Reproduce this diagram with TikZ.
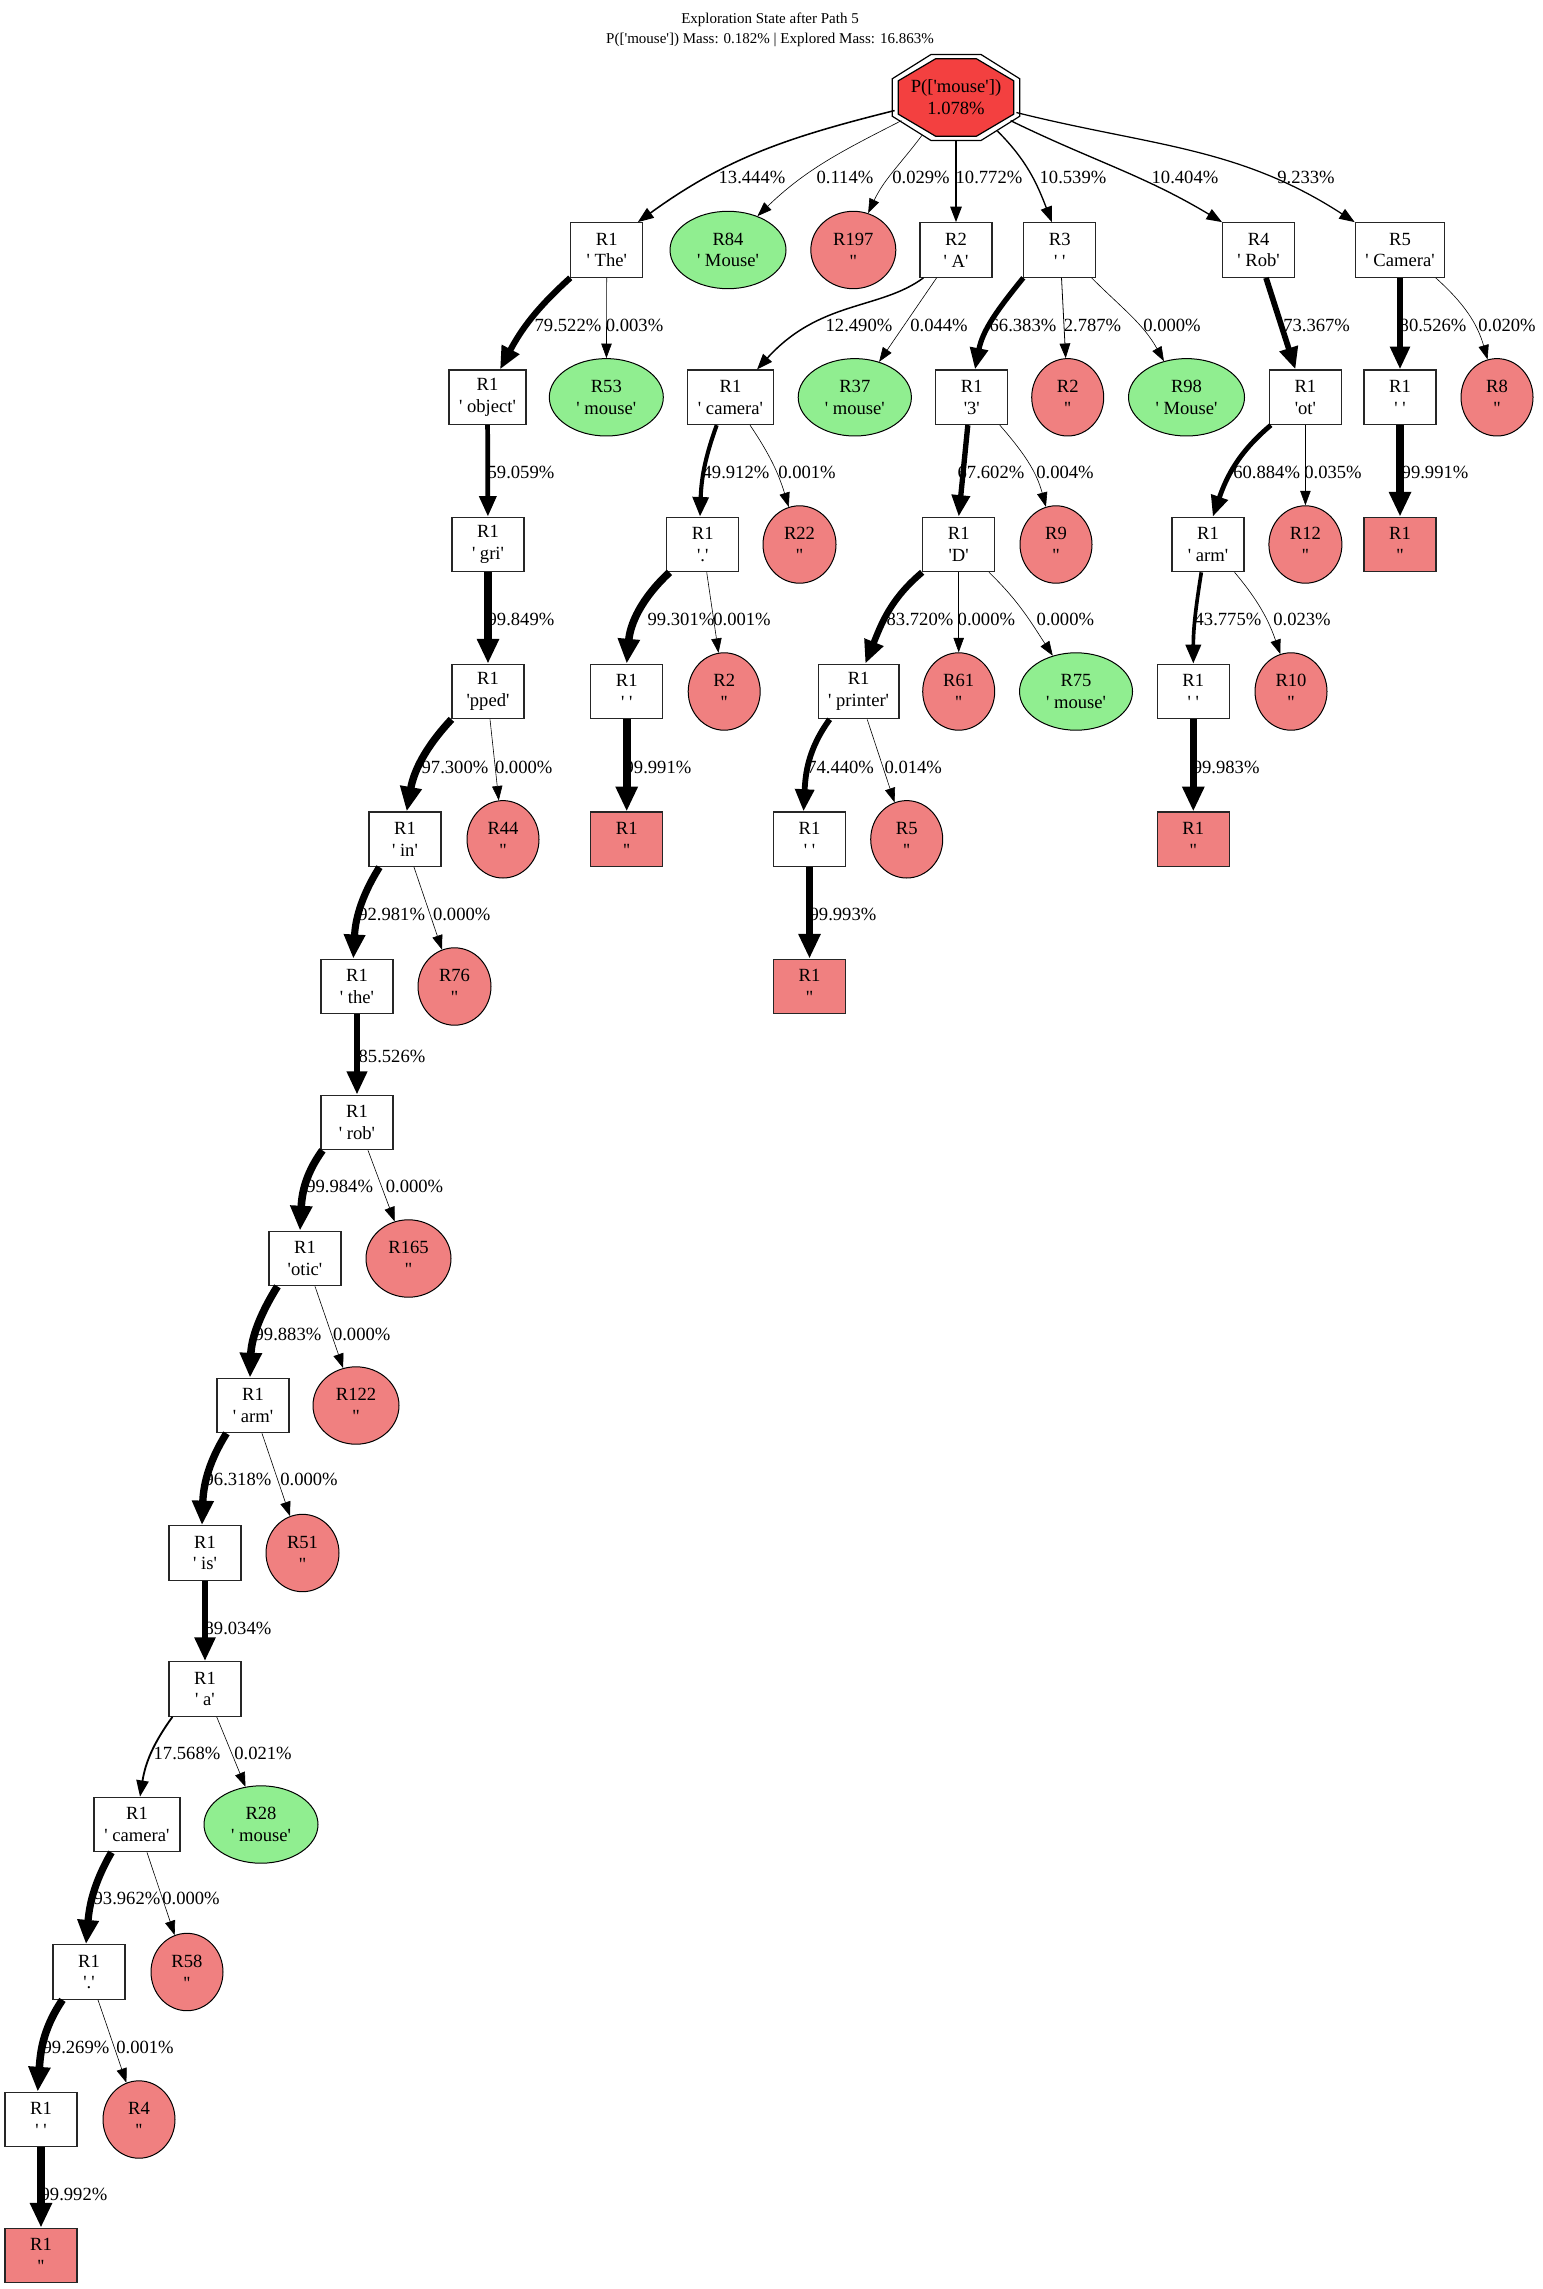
\documentclass[tikz,border=0pt]{standalone}
\usepackage{fontspec}
\usetikzlibrary{arrows.meta,calc,shapes.geometric}
\newfontfamily\gv{Liberation Serif}
\newcommand\nodefont{\gv\fontsize{9.3}{10.9}\selectfont}
\newcommand\titlefont{\gv\fontsize{7.5}{9.75}\selectfont}
\definecolor{rootred}{RGB}{243,64,64}
\definecolor{lcoral}{RGB}{240,128,128}
\definecolor{lgreen}{RGB}{144,238,144}

% edge whose width and arrow head grow with the probability #1
\tikzset{pe/.code={%
  \pgfmathsetmacro\ew{0.6+7*#1}%
  \pgfmathsetmacro\elw{\ew/2}%
  \pgfmathsetmacro\eal{(13.5+1.5*\ew)/2}%
  \pgfmathsetmacro\eaw{(9.5+1.5*\ew)/2}%
  \edef\tmpedge{\noexpand\pgfkeysalso{/tikz/line width=\elw pt,/tikz/arrows={-{Triangle[length=\eal pt,width=\eaw pt]}}}}%
  \tmpedge}}

\begin{document}
\begin{tikzpicture}[x=0.5pt,y=0.5pt,
  bx/.style={draw=black!85, line width=0.55pt, rectangle, minimum width=36pt, minimum height=27.3pt, inner sep=0pt, align=center, font=\nodefont},
  fn/.style={bx, fill=lcoral},
  rc/.style={ellipse, draw=black, line width=0.5pt, fill=lcoral, minimum width=36.5pt, minimum height=38.7pt, inner sep=0pt, align=center, font=\nodefont},
  gn/.style={rc, fill=lgreen, minimum width=57pt},
  lab/.style={font=\nodefont, inner sep=0pt}]

\fill[white] (0,0) rectangle (1542,-2289);
\path[use as bounding box] (0,0) rectangle (1542,-2289);

% title
\node[font=\titlefont, align=center, inner sep=0pt] (title) at (770,-30)
  {Exploration State after Path 5\\P(['mouse']) Mass: 0.182\% | Explored Mass: 16.863\%};

% root: double octagon
\begin{scope}[shift={(956,-97.5)}]
  \draw[line width=0.6pt, fill=white] (-63.8,18.7) -- (-25,43) -- (25,43) -- (63.8,18.7) -- (63.8,-18.7) -- (25,-43) -- (-25,-43) -- (-63.8,-18.7) -- cycle;
  \draw[line width=0.6pt, fill=rootred] (-57.7,16.7) -- (-20.3,38.8) -- (20.3,38.8) -- (57.7,16.7) -- (57.7,-16.7) -- (20.3,-38.8) -- (-20.3,-38.8) -- (-57.7,-16.7) -- cycle;
\end{scope}
\node[ellipse, minimum width=63.5pt, minimum height=43.5pt, inner sep=0pt, align=center, font=\nodefont] (nRoot) at (956,-97.5) {P(['mouse'])\\1.078\%};

% rank 1
\node[bx] (nThe) at (606.8,-250) {R1\\' The'};
\node[gn, minimum width=58pt] (nR84) at (728,-250) {R84\\' Mouse'};
\node[rc, minimum width=42.5pt] (nR197) at (853.3,-250) {R197\\''};
\node[bx] (nA) at (956,-250) {R2\\' A'};
\node[bx] (nR3) at (1059.8,-250) {R3\\' '};
\node[bx] (nR4) at (1258.6,-250) {R4\\' Rob'};
\node[bx, minimum width=44.75pt] (nR5) at (1400,-250) {R5\\' Camera'};

% rank 2
\node[bx, minimum width=38.5pt] (nobject) at (487.5,-397.3) {R1\\' object'};
\node[gn] (nR53) at (606.3,-397.3) {R53\\' mouse'};
\node[bx, minimum width=42.75pt] (ncameraA) at (730.5,-397.3) {R1\\' camera'};
\node[gn, minimum width=56.6pt] (nR37) at (854.8,-397.3) {R37\\' mouse'};
\node[bx] (nthree) at (971.8,-397.3) {R1\\'3'};
\node[rc, minimum width=36pt] (nR2b) at (1067.7,-397.3) {R2\\''};
\node[gn, minimum width=58pt] (nR98) at (1186.5,-397.3) {R98\\' Mouse'};
\node[bx] (nOT) at (1305.4,-397.3) {R1\\'ot'};
\node[bx] (nsp5) at (1400,-397.3) {R1\\' '};
\node[rc, minimum width=36pt] (nR8) at (1497,-397.3) {R8\\''};

% rank 3
\node[bx] (ngri) at (488,-544.5) {R1\\' gri'};
\node[bx] (ndotA) at (702.7,-544.5) {R1\\'.'};
\node[rc] (nR22) at (799.5,-544.5) {R22\\''};
\node[bx] (nD) at (958.7,-544.5) {R1\\'D'};
\node[rc, minimum width=36pt] (nR9) at (1056,-544.5) {R9\\''};
\node[bx] (narmB) at (1208,-544.5) {R1\\' arm'};
\node[rc] (nR12) at (1305.4,-544.5) {R12\\''};
\node[fn] (nfin5) at (1400,-544.5) {R1\\''};

% rank 4
\node[bx] (npped) at (488,-691.5) {R1\\'pped'};
\node[bx] (nspA) at (626.7,-691.5) {R1\\' '};
\node[rc, minimum width=36pt] (nR2c) at (724.2,-691.5) {R2\\''};
\node[bx, minimum width=40.4pt] (nprinter) at (858.6,-691.5) {R1\\' printer'};
\node[rc, minimum width=36pt] (nR61) at (958.7,-691.5) {R61\\''};
\node[gn, minimum width=56.5pt] (nR75) at (1076,-691.5) {R75\\' mouse'};
\node[bx] (nspB) at (1193.3,-691.5) {R1\\' '};
\node[rc, minimum width=36pt] (nR10) at (1291,-691.5) {R10\\''};

% rank 5
\node[bx] (nin) at (405,-839.3) {R1\\' in'};
\node[rc, minimum width=36pt] (nR44) at (503,-839.3) {R44\\''};
\node[fn] (nfinA) at (626.7,-839.3) {R1\\''};
\node[bx] (nspC) at (809.5,-839.3) {R1\\' '};
\node[rc, minimum width=36pt] (nR5c) at (906.7,-839.3) {R5\\''};
\node[fn] (nfinB) at (1193.3,-839.3) {R1\\''};

% rank 6
\node[bx] (nthe) at (357,-986.5) {R1\\' the'};
\node[rc] (nR76) at (454.5,-986.5) {R76\\''};
\node[fn] (nfinC) at (809.5,-986.5) {R1\\''};

% ranks 7 to 15 (left chain)
\node[bx] (nrob) at (357,-1122.5) {R1\\' rob'};
\node[bx] (notic) at (305,-1258.5) {R1\\'otic'};
\node[rc, minimum width=42.5pt] (nR165) at (408.5,-1258.5) {R165\\''};
\node[bx] (narm) at (253,-1405.5) {R1\\' arm'};
\node[rc, minimum width=43pt] (nR122) at (356,-1405.5) {R122\\''};
\node[bx] (nis) at (205,-1553) {R1\\' is'};
\node[rc] (nR51) at (302.5,-1553) {R51\\''};
\node[bx] (na) at (205,-1689) {R1\\' a'};
\node[bx, minimum width=43pt] (ncamera) at (137,-1824.5) {R1\\' camera'};
\node[gn] (nR28) at (261,-1824.5) {R28\\' mouse'};
\node[bx] (ndot) at (89,-1972) {R1\\'.'};
\node[rc, minimum width=36pt] (nR58) at (187,-1972) {R58\\''};
\node[bx] (nsp) at (41,-2119.5) {R1\\' '};
\node[rc, minimum width=36pt] (nR4c) at (139,-2119.5) {R4\\''};
\node[fn] (nfin) at (41,-2255.5) {R1\\''};

% edges from the root
\draw[pe=0.13444] (nRoot.192) to[out=194,in=36] ($(nThe.north)+(31,0)$);
\draw[pe=0.00114] (nRoot.203) to[out=207,in=44] (nR84.49);
\draw[pe=0.00029] (nRoot.228) to[out=233,in=65] (nR197.68);
\draw[pe=0.10772] (nRoot) -- (nA);
\draw[pe=0.10539] (nRoot.321) to[out=315,in=111] ($(nR3.north)+(-8,0)$);
\draw[pe=0.10404] (nRoot.337) to[out=334,in=149] (nR4.north west);
\draw[pe=0.09233] (nRoot.346) to[out=346,in=147] (nR5.north west);

% left chain
\draw[pe=0.79522] (nThe.south west) to[out=222,in=62] ($(nobject.north)+(12.5,0)$);
\draw[pe=0.00003] (nThe) -- (nR53);
\draw[pe=0.59059] (nobject) -- (ngri);
\draw[pe=0.99849] (ngri) -- (npped);
\draw[pe=0.973] (npped.south west) to[out=227,in=80] ($(nin.north)+(1.7,0)$);
\draw[pe=0] ($(npped.south)+(2,0)$) -- (nR44);
\draw[pe=0.92981] ($(nin.south west)+(11,0)$) to[out=238,in=87] ($(nthe.north)+(-3.7,0)$);
\draw[pe=0] ($(nin.south)+(9,0)$) -- (nR76);
\draw[pe=0.85526] (nthe) -- (nrob);
\draw[pe=0.99984] ($(nrob.south west)+(2,0)$) to[out=234,in=87] ($(notic.north)+(-5,0)$);
\draw[pe=0] ($(nrob.south)+(11,0)$) -- (nR165);
\draw[pe=0.99883] ($(notic.south west)+(9,0)$) to[out=238,in=88] ($(narm.north)+(-3,0)$);
\draw[pe=0] ($(notic.south)+(10,0)$) -- (nR122);
\draw[pe=0.96318] ($(narm.south west)+(10,0)$) to[out=238,in=88] ($(nis.north)+(-3,0)$);
\draw[pe=0] ($(narm.south)+(9,0)$) -- (nR51);
\draw[pe=0.89034] (nis) -- (na);
\draw[pe=0.17568] ($(na.south west)+(4,0)$) to[out=234,in=81] ($(ncamera.north)+(3,0)$);
\draw[pe=0.00021] ($(na.south)+(11.7,0)$) -- (nR28);
\draw[pe=0.93962] ($(ncamera.south west)+(18,0)$) to[out=240,in=85] ($(ndot.north)+(-3,0)$);
\draw[pe=0] ($(ncamera.south)+(10,0)$) -- (nR58);
\draw[pe=0.99269] ($(ndot.south west)+(10,0)$) to[out=236,in=86] ($(nsp.north)+(-3.3,0)$);
\draw[pe=0.00001] ($(ndot.south)+(9,0)$) -- (nR4c);
\draw[pe=0.99992] (nsp) -- (nfin);

% branch R2
\draw[pe=0.1249] ($(nA.south west)+(4,0)$) .. controls (880,-310) and (820,-300) .. ($(ncameraA.north)+(26.5,0)$);
\draw[pe=0.00044] ($(nA.south)+(-19.4,0)$) -- (nR37);
\draw[pe=0.49912] ($(ncameraA.south)+(-13.8,0)$) to[out=250,in=88] ($(ndotA.north)+(-2.7,0)$);
\draw[pe=0.00001] ($(ncameraA.south)+(19.5,0)$) to[out=304,in=107] (nR22.106);
\draw[pe=0.99301] ($(ndotA.south west)+(3.3,0)$) to[out=223,in=85] (nspA.north);
\draw[pe=0.00001] ($(ndotA.south)+(4,0)$) -- (nR2c);
\draw[pe=0.99991] (nspA) -- (nfinA);

% branch R3
\draw[pe=0.66383] (nR3.south west) to[out=231,in=79] ($(nthree.north)+(3.2,0)$);
\draw[pe=0.02787] ($(nR3.south)+(1.7,0)$) -- (nR2b);
\draw[pe=0] ($(nR3.south)+(31.8,0)$) to[out=315,in=119] (nR98.122);
\draw[pe=0.67602] ($(nthree.south)+(-4,0)$) -- (nD.north);
\draw[pe=0.00004] ($(nthree.south)+(28,0)$) to[out=311,in=105] (nR9.105);
\draw[pe=0.8372] (nD.south west) to[out=220,in=68] ($(nprinter.north)+(6.7,0)$);
\draw[pe=0] (nD) -- (nR61);
\draw[pe=0] ($(nD.south)+(30.3,0)$) to[out=316,in=123] (nR75.123);
\draw[pe=0.7444] ($(nprinter.south west)+(12,0)$) to[out=234,in=87] ($(nspC.north)+(-6,0)$);
\draw[pe=0.00014] ($(nprinter.south)+(8.6,0)$) -- (nR5c);
\draw[pe=0.99993] (nspC) -- (nfinC);

% branch R4
\draw[pe=0.73367] ($(nR4.south)+(7.4,0)$) -- ($(nOT.north)+(-10,0)$);
\draw[pe=0.60884] ($(nOT.south west)+(2,0)$) to[out=220,in=71] ($(narmB.north)+(4.8,0)$);
\draw[pe=0.00035] (nOT) -- (nR12);
\draw[pe=0.43775] ($(narmB.south)+(-6.7,0)$) to[out=261,in=90] (nspB.north);
\draw[pe=0.00023] ($(narmB.south)+(26.6,0)$) to[out=310,in=109] (nR10.106);
\draw[pe=0.99983] (nspB) -- (nfinB);

% branch R5
\draw[pe=0.80526] (nR5) -- (nsp5);
\draw[pe=0.0002] ($(nR5.south)+(35.7,0)$) to[out=318,in=106] (nR8.104);
\draw[pe=0.99991] (nsp5) -- (nfin5);

% edge labels
\node[lab] (l1) at (752,-177.5) {13.444\%};
\node[lab] (l2) at (845,-177.5) {0.114\%};
\node[lab] (l3) at (921,-177.5) {0.029\%};
\node[lab] (l4) at (989,-177.5) {10.772\%};
\node[lab] (l5) at (1073,-177.5) {10.539\%};
\node[lab] (l6) at (1185,-177.5) {10.404\%};
\node[lab] (l7) at (1306,-177.5) {9.233\%};

\node[lab] (l8) at (568,-325) {79.522\%};
\node[lab] (l9) at (634.6,-325) {0.003\%};
\node[lab] (l10) at (859,-325) {12.490\%};
\node[lab] (l11) at (939,-325) {0.044\%};
\node[lab] (l12) at (1023,-325) {66.383\%};
\node[lab] (l13) at (1092.5,-325) {2.787\%};
\node[lab] (l14) at (1172,-325) {0.000\%};
\node[lab] (l15) at (1316.6,-325) {73.367\%};
\node[lab] (l16) at (1433,-325) {80.526\%};
\node[lab] (l17) at (1507,-325) {0.020\%};

\node[lab] (l18) at (521,-472) {59.059\%};
\node[lab] (l19) at (736,-472) {49.912\%};
\node[lab] (l20) at (807,-472) {0.001\%};
\node[lab] (l21) at (991,-472) {67.602\%};
\node[lab] (l22) at (1065,-472) {0.004\%};
\node[lab] (l23) at (1266.7,-472) {60.884\%};
\node[lab] (l24) at (1333,-472) {0.035\%};
\node[lab] (l25) at (1435,-472) {99.991\%};

\node[lab] (l26) at (521,-619) {99.849\%};
\node[lab] (l27) at (681,-619) {99.301\%};
\node[lab] (l28) at (742,-619) {0.001\%};
\node[lab] (l29) at (920,-619) {83.720\%};
\node[lab] (l30) at (986.4,-619) {0.000\%};
\node[lab] (l31) at (1065.4,-619) {0.000\%};
\node[lab] (l32) at (1228,-619) {43.775\%};
\node[lab] (l33) at (1302,-619) {0.023\%};

\node[lab] (l34) at (455,-767) {97.300\%};
\node[lab] (l35) at (523.7,-767) {0.000\%};
\node[lab] (l36) at (658,-767) {99.991\%};
\node[lab] (l37) at (840.6,-767) {74.440\%};
\node[lab] (l38) at (913.3,-767) {0.014\%};
\node[lab] (l39) at (1226.2,-767) {99.983\%};

\node[lab] (l40) at (391.7,-914) {92.981\%};
\node[lab] (l41) at (461.7,-914) {0.000\%};
\node[lab] (l42) at (843,-914) {99.993\%};

\node[lab] (l43) at (392,-1056) {85.526\%};
\node[lab] (l44) at (339.7,-1186) {99.984\%};
\node[lab] (l45) at (414.5,-1186) {0.000\%};
\node[lab] (l46) at (288,-1334) {99.883\%};
\node[lab] (l47) at (361.7,-1334) {0.000\%};
\node[lab] (l48) at (238,-1479) {96.318\%};
\node[lab] (l49) at (309,-1479) {0.000\%};
\node[lab] (l50) at (238,-1628) {89.034\%};
\node[lab] (l51) at (187,-1753) {17.568\%};
\node[lab] (l52) at (263,-1753) {0.021\%};
\node[lab] (l53) at (127,-1898) {93.962\%};
\node[lab] (l54) at (191,-1898) {0.000\%};
\node[lab] (l55) at (76,-2047) {99.269\%};
\node[lab] (l56) at (145,-2047) {0.001\%};
\node[lab] (l57) at (74,-2194) {99.992\%};

\end{tikzpicture}
\end{document}
